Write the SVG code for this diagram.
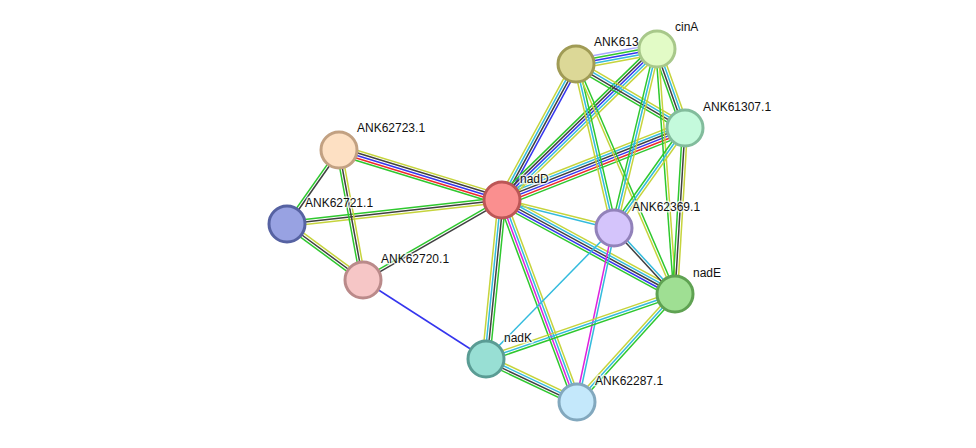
<svg xmlns="http://www.w3.org/2000/svg" width="976" height="448" viewBox="0 0 976 448">
<style>
#edges line{stroke-width:1.3;fill:none}
.t{stroke:#c6d43c}.d{stroke:#33bbdd}.k{stroke:#404040}.g{stroke:#2ec82e}.b{stroke:#3535ee}.r{stroke:#ee2a2a}.m{stroke:#dd22dd}.h{stroke:#aaaaff}
.n circle{stroke-width:3}
.n text{font-family:"Liberation Sans",Arial,sans-serif;font-size:12px;fill:#111;stroke:#fff;stroke-width:3;stroke-opacity:0.7;paint-order:stroke;stroke-linejoin:round}
</style>
<rect width="976" height="448" fill="#fff"/>
<g id="edges">
<g transform="translate(339 150) rotate(17.05) scale(1 1.15)"><line class="t" x2="170.5" y1="-4.4" y2="-4.4"/><line class="k" x2="170.5" y1="-2.2" y2="-2.2"/><line class="b" x2="170.5"/><line class="r" x2="170.5" y1="2.2" y2="2.2"/><line class="g" x2="170.5" y1="4.4" y2="4.4"/></g>
<g transform="translate(287 224) rotate(-6.37) scale(1 1.15)"><line class="g" x2="216.3" y1="-2.2" y2="-2.2"/><line class="k" x2="216.3"/><line class="t" x2="216.3" y1="2.2" y2="2.2"/></g>
<g transform="translate(363 280) rotate(-29.92) scale(1 1.15)"><line class="g" x2="160.4" y1="-1.1" y2="-1.1"/><line class="k" x2="160.4" y1="1.1" y2="1.1"/></g>
<g transform="translate(287 224) rotate(-54.9) scale(1 1.15)"><line class="g" x2="90.4" y1="-1.1" y2="-1.1"/><line class="k" x2="90.4" y1="1.1" y2="1.1"/></g>
<g transform="translate(339 150) rotate(79.54) scale(1 1.15)"><line class="t" x2="132.2" y1="-2.2" y2="-2.2"/><line class="k" x2="132.2"/><line class="g" x2="132.2" y1="2.2" y2="2.2"/></g>
<g transform="translate(287 224) rotate(36.38) scale(1 1.15)"><line class="t" x2="94.4" y1="-2.2" y2="-2.2"/><line class="k" x2="94.4"/><line class="g" x2="94.4" y1="2.2" y2="2.2"/></g>
<line class="b" x1="363" y1="280" x2="486" y2="359" style="stroke-width:1.5"/>
<g transform="translate(502 200) rotate(95.75) scale(1 1.15)"><line class="g" x2="159.8" y1="-3.3" y2="-3.3"/><line class="k" x2="159.8" y1="-1.1" y2="-1.1"/><line class="d" x2="159.8" y1="1.1" y2="1.1"/><line class="t" x2="159.8" y1="3.3" y2="3.3"/></g>
<g transform="translate(502 200) rotate(69.63) scale(1 1.15)"><line class="t" x2="215.5" y1="-3.3" y2="-3.3"/><line class="d" x2="215.5" y1="-1.1" y2="-1.1"/><line class="m" x2="215.5" y1="1.1" y2="1.1"/><line class="g" x2="215.5" y1="3.3" y2="3.3"/></g>
<g transform="translate(502 200) rotate(14.04) scale(1 1.15)"><line class="t" x2="115.4" y1="-1.1" y2="-1.1"/><line class="d" x2="115.4" y1="1.1" y2="1.1"/></g>
<g transform="translate(502 200) rotate(28.52) scale(1 1.15)"><line class="t" x2="196.9" y1="-4.4" y2="-4.4"/><line class="d" x2="196.9" y1="-2.2" y2="-2.2"/><line class="k" x2="196.9"/><line class="b" x2="196.9" y1="2.2" y2="2.2"/><line class="g" x2="196.9" y1="4.4" y2="4.4"/></g>
<g transform="translate(502 200) rotate(-21.48) scale(1 1.15)"><line class="t" x2="196.7" y1="-5.5" y2="-5.5"/><line class="d" x2="196.7" y1="-3.3" y2="-3.3"/><line class="k" x2="196.7" y1="-1.1" y2="-1.1"/><line class="b" x2="196.7" y1="1.1" y2="1.1"/><line class="r" x2="196.7" y1="3.3" y2="3.3"/><line class="g" x2="196.7" y1="5.5" y2="5.5"/></g>
<g transform="translate(502 200) rotate(-61.45) scale(1 1.15)"><line class="t" x2="154.8" y1="-3.3" y2="-3.3"/><line class="d" x2="154.8" y1="-1.1" y2="-1.1"/><line class="k" x2="154.8" y1="1.1" y2="1.1"/><line class="b" x2="154.8" y1="3.3" y2="3.3"/></g>
<g transform="translate(502 200) rotate(-44.25) scale(1 1.15)"><line class="g" x2="216.4" y1="-4.4" y2="-4.4"/><line class="k" x2="216.4" y1="-2.2" y2="-2.2"/><line class="b" x2="216.4"/><line class="d" x2="216.4" y1="2.2" y2="2.2"/><line class="t" x2="216.4" y1="4.4" y2="4.4"/></g>
<g transform="translate(576 64) rotate(-10.49) scale(1 1.15)"><line class="h" x2="82.4" y1="-4.4" y2="-4.4"/><line class="g" x2="82.4" y1="-2.2" y2="-2.2"/><line class="b" x2="82.4"/><line class="d" x2="82.4" y1="2.2" y2="2.2"/><line class="t" x2="82.4" y1="4.4" y2="4.4"/></g>
<g transform="translate(576 64) rotate(30.42) scale(1 1.15)"><line class="t" x2="126.4" y1="-3.3" y2="-3.3"/><line class="d" x2="126.4" y1="-1.1" y2="-1.1"/><line class="k" x2="126.4" y1="1.1" y2="1.1"/><line class="g" x2="126.4" y1="3.3" y2="3.3"/></g>
<g transform="translate(657 49) rotate(70.48) scale(1 1.15)"><line class="t" x2="83.8" y1="-3.3" y2="-3.3"/><line class="d" x2="83.8" y1="-1.1" y2="-1.1"/><line class="k" x2="83.8" y1="1.1" y2="1.1"/><line class="g" x2="83.8" y1="3.3" y2="3.3"/></g>
<g transform="translate(576 64) rotate(76.95) scale(1 1.15)"><line class="g" x2="168.3" y1="-2.2" y2="-2.2"/><line class="d" x2="168.3"/><line class="t" x2="168.3" y1="2.2" y2="2.2"/></g>
<g transform="translate(576 64) rotate(66.71) scale(1 1.15)"><line class="g" x2="250.4" y1="-1.1" y2="-1.1"/><line class="t" x2="250.4" y1="1.1" y2="1.1"/></g>
<g transform="translate(657 49) rotate(103.5) scale(1 1.15)"><line class="t" x2="184.1" y1="-2.2" y2="-2.2"/><line class="d" x2="184.1"/><line class="g" x2="184.1" y1="2.2" y2="2.2"/></g>
<g transform="translate(657 49) rotate(85.8) scale(1 1.15)"><line class="t" x2="245.7" y1="-1.1" y2="-1.1"/><line class="g" x2="245.7" y1="1.1" y2="1.1"/></g>
<g transform="translate(685 128) rotate(125.37) scale(1 1.15)"><line class="t" x2="122.6" y1="-2.2" y2="-2.2"/><line class="d" x2="122.6"/><line class="g" x2="122.6" y1="2.2" y2="2.2"/></g>
<g transform="translate(685 128) rotate(93.45) scale(1 1.15)"><line class="t" x2="166.3" y1="-2.2" y2="-2.2"/><line class="k" x2="166.3"/><line class="g" x2="166.3" y1="2.2" y2="2.2"/></g>
<g transform="translate(614 228) rotate(47.26) scale(1 1.15)"><line class="d" x2="89.9" y1="-1.1" y2="-1.1"/><line class="k" x2="89.9" y1="1.1" y2="1.1"/></g>
<line class="d" x1="614" y1="228" x2="486" y2="359" style="stroke-width:1.5"/>
<g transform="translate(614 228) rotate(102) scale(1 1.15)"><line class="d" x2="177.9" y1="-1.1" y2="-1.1"/><line class="m" x2="177.9" y1="1.1" y2="1.1"/></g>
<g transform="translate(486 359) rotate(-18.98) scale(1 1.15)"><line class="t" x2="199.9" y1="-2.2" y2="-2.2"/><line class="d" x2="199.9"/><line class="g" x2="199.9" y1="2.2" y2="2.2"/></g>
<g transform="translate(577 402) rotate(-47.78) scale(1 1.15)"><line class="t" x2="145.8" y1="-2.2" y2="-2.2"/><line class="d" x2="145.8"/><line class="g" x2="145.8" y1="2.2" y2="2.2"/></g>
<g transform="translate(486 359) rotate(25.3) scale(1 1.15)"><line class="t" x2="100.6" y1="-3.3" y2="-3.3"/><line class="d" x2="100.6" y1="-1.1" y2="-1.1"/><line class="k" x2="100.6" y1="1.1" y2="1.1"/><line class="g" x2="100.6" y1="3.3" y2="3.3"/></g>
</g>
<g id="nodes">
<g id="n-ANK62723" class="n"><circle cx="339" cy="150" r="18" fill="#fde0c3" stroke="#c2a182"/><text x="357" y="132">ANK62723.1</text></g>
<g id="n-ANK62721" class="n"><circle cx="287" cy="224" r="18" fill="#98a2e2" stroke="#5662a2"/><text x="305" y="207">ANK62721.1</text></g>
<g id="n-ANK62720" class="n"><circle cx="363" cy="280" r="18" fill="#f6c6c6" stroke="#ba8a8a"/><text x="381" y="263">ANK62720.1</text></g>
<g id="n-nadK" class="n"><circle cx="486" cy="359" r="18" fill="#98dfd4" stroke="#5a9c94"/><text x="504" y="342">nadK</text></g>
<g id="n-ANK62287" class="n"><circle cx="577" cy="402" r="18" fill="#c4e8fb" stroke="#82a8be"/><text x="595" y="385">ANK62287.1</text></g>
<g id="n-nadE" class="n"><circle cx="675" cy="294" r="18" fill="#9fdf93" stroke="#5fa252"/><text x="693" y="277">nadE</text></g>
<g id="n-ANK62369" class="n"><circle cx="614" cy="228" r="18" fill="#d4c4fb" stroke="#9282ba"/><text x="632" y="211">ANK62369.1</text></g>
<g id="n-ANK61307" class="n"><circle cx="685" cy="128" r="18" fill="#c4fadc" stroke="#82bc9c"/><text x="703" y="111">ANK61307.1</text></g>
<g id="n-ANK613" class="n"><circle cx="576" cy="64" r="18" fill="#dcd897" stroke="#a09b55"/><text x="594" y="46">ANK613</text></g>
<g id="n-cinA" class="n"><circle cx="657" cy="49" r="18" fill="#e2fbc6" stroke="#a8c88a"/><text x="675" y="31">cinA</text></g>
<g id="n-nadD" class="n"><circle cx="502" cy="200" r="18" fill="#fa8f8f" stroke="#bc5656"/><text x="520" y="183">nadD</text></g>
</g>
</svg>
